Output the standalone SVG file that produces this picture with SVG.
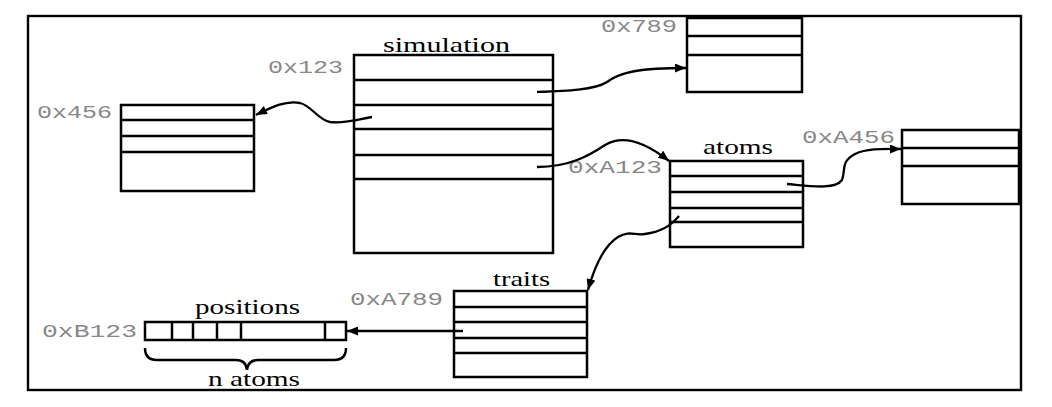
<svg xmlns="http://www.w3.org/2000/svg" width="1052" height="407" viewBox="0 0 1052 407">
<style>
.box{fill:#fff;stroke:#000;stroke-width:2.5}
.ln{stroke:#000;stroke-width:2.5;fill:none}
.con{stroke:#000;stroke-width:2.3;fill:none}
.ser{font-family:"Liberation Serif",serif;font-size:21px;fill:#000}
.mono{font-family:"Liberation Mono",monospace;font-size:19px;fill:#888}
</style>
<defs>
<marker id="ah" markerUnits="userSpaceOnUse" markerWidth="12" markerHeight="9" refX="11" refY="4.5" orient="auto">
<path d="M0,0 L11,4.5 L0,9 z" fill="#000"/>
</marker>
</defs>
<rect x="0" y="0" width="1052" height="407" fill="#fff"/>
<rect x="28" y="16" width="993" height="374" fill="none" stroke="#000" stroke-width="2.4"/>

<g id="node-0x456">
<rect class="box" x="121" y="105" width="133" height="86"/>
<path class="ln" d="M121,120H254M121,136H254M121,152H254"/>
<text class="mono" x="37" y="118" textLength="75" lengthAdjust="spacingAndGlyphs">0x456</text>
</g>

<g id="node-simulation">
<rect class="box" x="354" y="55" width="199" height="198"/>
<path class="ln" d="M354,80H553M354,105H553M354,129H553M354,155H553M354,179H553"/>
<text class="ser" x="383" y="52" textLength="127" lengthAdjust="spacingAndGlyphs">simulation</text>
<text class="mono" x="268" y="73" textLength="75" lengthAdjust="spacingAndGlyphs">0x123</text>
</g>

<g id="node-0x789">
<rect class="box" x="687" y="18" width="115" height="74"/>
<path class="ln" d="M687,36H802M687,55H802"/>
<text class="mono" x="601" y="32" textLength="76" lengthAdjust="spacingAndGlyphs">0x789</text>
</g>

<g id="node-atoms">
<rect class="box" x="670" y="161" width="133" height="86"/>
<path class="ln" d="M670,176H803M670,192H803M670,208H803M670,222H803"/>
<text class="ser" x="703" y="154" textLength="70" lengthAdjust="spacingAndGlyphs">atoms</text>
<text class="mono" x="568" y="173" textLength="94" lengthAdjust="spacingAndGlyphs">0xA123</text>
</g>

<g id="node-0xA456">
<rect class="box" x="902" y="130" width="117" height="74"/>
<path class="ln" d="M902,148H1019M902,166H1019"/>
<text class="mono" x="802" y="143" textLength="93" lengthAdjust="spacingAndGlyphs">0xA456</text>
</g>

<g id="node-traits">
<rect class="box" x="454" y="291" width="133" height="86"/>
<path class="ln" d="M454,307H587M454,322H587M454,338H587M454,353H587"/>
<text class="ser" x="493" y="286" textLength="57" lengthAdjust="spacingAndGlyphs">traits</text>
<text class="mono" x="350" y="305" textLength="93" lengthAdjust="spacingAndGlyphs">0xA789</text>
</g>

<g id="node-positions">
<rect class="box" x="145" y="322" width="201" height="18"/>
<path class="ln" d="M172,322V340M193,322V340M217,322V340M241,322V340M325,322V340"/>
<text class="ser" x="195" y="314" textLength="105" lengthAdjust="spacingAndGlyphs">positions</text>
<text class="mono" x="42" y="337" textLength="95" lengthAdjust="spacingAndGlyphs">0xB123</text>
<path class="ln" d="M145,348 Q145,360 157,360 L236,360 Q246,360 247,370 Q248,360 258,360 L334,360 Q346,360 346,348"/>
<text class="ser" x="208" y="386" textLength="92" lengthAdjust="spacingAndGlyphs">n atoms</text>
</g>

<g id="connectors">
<path class="con" marker-end="url(#ah)" d="M372,117 C360,119 345,124 330,122 C318,120 312,106 300,103 C285,100 270,108 256,115"/>
<path class="con" marker-end="url(#ah)" d="M537,92 C565,91 595,90 607,82 C620,72 640,68 686,68"/>
<path class="con" marker-end="url(#ah)" d="M537,167 C570,167 590,155 605,145 C620,136 640,138 669,161"/>
<path class="con" marker-end="url(#ah)" d="M787,184 C810,186 835,190 842,180 C846,170 840,162 855,154 C868,148 885,149 901,149"/>
<path class="con" marker-end="url(#ah)" d="M679,216 C670,227 660,232 645,234 C635,236 630,230 618,237 C605,245 595,265 588,290"/>
<path class="con" marker-end="url(#ah)" d="M463,331 L347,331"/>
</g>
</svg>
